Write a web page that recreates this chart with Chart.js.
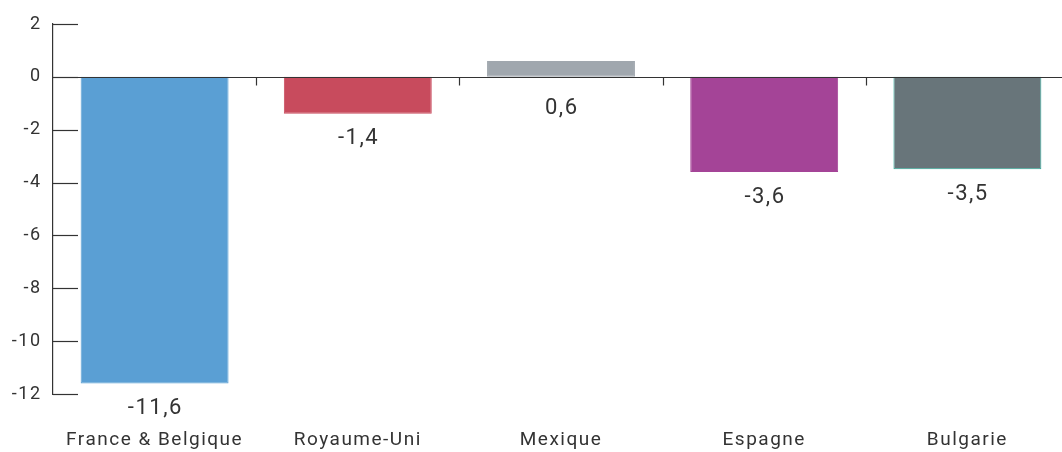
<!DOCTYPE html>
<html>
<head>
<meta charset="utf-8">
<script src="https://cdn.jsdelivr.net/npm/chart.js@4/dist/chart.umd.min.js"></script>
<style>
  html, body { margin: 0; padding: 0; background: #ffffff; overflow: hidden; }
  #wrap { width: 1069px; height: 452px; position: relative; }
</style>
</head>
<body>
<div id="wrap"><canvas id="chart"></canvas></div>
<script>
const categories = ['France & Belgique', 'Royaume-Uni', 'Mexique', 'Espagne', 'Bulgarie'];
const values = [-11.6, -1.4, 0.6, -3.6, -3.5];
const barColors = ['#5a9fd4', '#c84b5d', '#a0a7ae', '#a44497', '#68757a'];
const barBorders = ['#5a9fd4', '#c84b5d', '#a0a7ae', '#a44497', '#2aae9c'];
const yTicks = [2, 0, -2, -4, -6, -8, -10, -12];

const FONT = "Roboto, 'Liberation Sans', sans-serif";
const INK = '#333333';

// Slightly open letter spacing for every text drawn on the canvas
const spacing = {
  id: 'spacing',
  beforeDraw(chart) { chart.ctx.letterSpacing = '1.5px'; }
};

// Short tick marks on the inner side of the value axis, zero line, and category dividers
const axisDecor = {
  id: 'axisDecor',
  afterDatasetsDraw(chart) {
    const { ctx, chartArea, scales } = chart;
    const y = scales.y, x = scales.x;
    ctx.save();
    ctx.strokeStyle = INK;
    ctx.lineWidth = 1.2;
    yTicks.forEach(v => {
      const py = Math.round(y.getPixelForValue(v)) + 0.5;
      ctx.beginPath();
      ctx.moveTo(chartArea.left, py);
      ctx.lineTo(chartArea.left + 25, py);
      ctx.stroke();
    });
    const zy = Math.round(y.getPixelForValue(0)) + 0.5;
    ctx.beginPath();
    ctx.moveTo(chartArea.left, zy);
    ctx.lineTo(chartArea.right, zy);
    ctx.stroke();
    for (let i = 1; i < categories.length; i++) {
      const bx = Math.round((x.getPixelForValue(i - 1) + x.getPixelForValue(i)) / 2) + 0.5;
      ctx.beginPath();
      ctx.moveTo(bx, zy);
      ctx.lineTo(bx, zy + 8);
      ctx.stroke();
    }
    ctx.restore();
  }
};

// Value labels under each bar (under the zero line for positive bars)
const valueLabels = {
  id: 'valueLabels',
  afterDatasetsDraw(chart) {
    const { ctx, scales } = chart;
    const meta = chart.getDatasetMeta(0);
    ctx.save();
    ctx.fillStyle = INK;
    ctx.font = '22px ' + FONT;
    ctx.textAlign = 'center';
    ctx.textBaseline = 'middle';
    meta.data.forEach((bar, i) => {
      const v = values[i];
      const end = v < 0 ? scales.y.getPixelForValue(v) : scales.y.getPixelForValue(0);
      const off = v < 0 ? 25 : 32;
      ctx.fillText(v.toFixed(1).replace('.', ','), bar.x + 0.75, end + off);
    });
    ctx.restore();
  }
};

new Chart(document.getElementById('chart'), {
  type: 'bar',
  data: {
    labels: categories,
    datasets: [{
      data: values,
      backgroundColor: barColors,
      borderColor: barBorders,
      borderWidth: 1,
      borderSkipped: false,
      categoryPercentage: 1,
      barPercentage: 0.728
    }]
  },
  options: {
    responsive: true,
    maintainAspectRatio: false,
    animation: false,
    layout: { padding: { top: 24, right: 0, bottom: 0, left: 0 } },
    plugins: { legend: { display: false }, tooltip: { enabled: false } },
    scales: {
      x: {
        grid: { display: false, drawTicks: false },
        border: { display: false },
        ticks: { color: INK, font: { family: FONT, size: 19 }, padding: 35 },
        afterFit(s) { s.height = 58; }
      },
      y: {
        min: -12,
        max: 2,
        afterBuildTicks(s) { s.ticks = yTicks.map(v => ({ value: v })); },
        grid: { display: false, drawTicks: false },
        border: { display: true, color: INK, width: 1.2 },
        ticks: {
          color: INK,
          font: { family: FONT, size: 18 },
          padding: 11.5,
          callback: v => String(v)
        },
        afterFit(s) { s.width = 53; }
      }
    }
  },
  plugins: [spacing, axisDecor, valueLabels]
});
</script>
</body>
</html>
